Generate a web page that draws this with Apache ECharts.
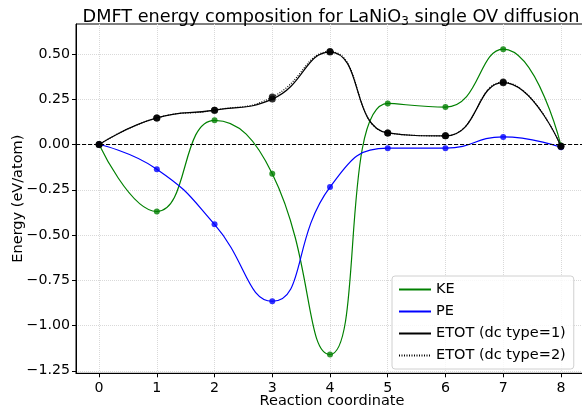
<!DOCTYPE html>
<html>
<head>
<meta charset="utf-8">
<script src="https://cdn.jsdelivr.net/npm/echarts@6/dist/echarts.min.js"></script>
<style>html,body{margin:0;padding:0;background:#fff}#c{width:582px;height:409px}</style>
</head>
<body>
<div id="c"></div>
<script>
const coords = [0, 1, 2, 3, 4, 5, 6, 7, 8];
const KE    = [0, -0.37, 0.134, -0.161, -1.16, 0.227, 0.207, 0.527, -0.005];
const PE    = [0, -0.136, -0.441, -0.866, -0.235, -0.02, -0.02, 0.042, -0.015];
const ETOT1 = [0, 0.147, 0.19, 0.251, 0.511, 0.064, 0.048, 0.342, -0.01];
const ETOT2 = [0, 0.147, 0.19, 0.262, 0.514, 0.064, 0.048, 0.345, -0.01];
const xTicks = [0, 1, 2, 3, 4, 5, 6, 7, 8];
const yTicks = [-1.25, -1.0, -0.75, -0.5, -0.25, 0, 0.25, 0.5];

const pairs = arr => coords.map((x, i) => [x, arr[i]]);
const font = 'DejaVu Sans';

function lineSeries(name, arr, color, type) {
  return {
    name: name, type: 'line', data: pairs(arr), smooth: 0.5,
    symbol: 'none', lineStyle: {color: color, width: 1.2, type: type || 'solid'},
    itemStyle: {color: color}, z: 2
  };
}
function dotSeries(arr, color, size) {
  return {
    type: 'scatter', data: pairs(arr), symbolSize: size,
    itemStyle: {color: color}, z: 3, silent: true
  };
}

const chart = echarts.init(document.getElementById('c'), null, {renderer: 'canvas'});
chart.setOption({
  animation: false,
  textStyle: {fontFamily: font},
  title: {
    text: 'DMFT energy composition for LaNiO{sub|3} single OV diffusion',
    left: 326, textAlign: 'center', top: 2,
    textStyle: {
      fontFamily: font, fontSize: 17.7, fontWeight: 'normal', color: '#000',
      rich: {sub: {fontFamily: font, fontSize: 12, verticalAlign: 'bottom', padding: [9, 0, 0, 0], color: '#000'}}
    }
  },
  grid: {left: 76, top: 24, width: 512, height: 349.3, show: true, borderColor: '#000', borderWidth: 1,
         outerBoundsMode: 'none', containLabel: false},
  xAxis: {
    type: 'value', min: -0.4, max: 8.469,
    name: 'Reaction coordinate', nameLocation: 'middle', nameGap: 20, nameMoveOverlap: false,
    nameTextStyle: {fontFamily: font, fontSize: 14.5, color: '#000'},
    axisLine: {show: true, onZero: false, lineStyle: {color: '#000', width: 1}},
    axisTick: {show: true, length: 4, customValues: xTicks, lineStyle: {color: '#000'}},
    axisLabel: {customValues: xTicks, fontFamily: font, fontSize: 14.2, color: '#000', margin: 8},
    splitLine: {show: true, lineStyle: {color: '#d9d9d9', type: 'dotted', width: 1}}
  },
  yAxis: {
    type: 'value', min: -1.264, max: 0.666,
    name: 'Energy (eV/atom)', nameLocation: 'middle', nameGap: 50, nameMoveOverlap: false,
    nameTextStyle: {fontFamily: font, fontSize: 14.5, color: '#000'},
    axisLine: {show: true, onZero: false, lineStyle: {color: '#000', width: 1}},
    axisTick: {show: true, length: 4, customValues: yTicks, lineStyle: {color: '#000'}},
    axisLabel: {
      customValues: yTicks, fontFamily: font, fontSize: 14.2, color: '#000', margin: 6,
      formatter: v => v.toFixed(2).replace('-', '\u2212')
    },
    splitLine: {show: true, lineStyle: {color: '#d9d9d9', type: 'dotted', width: 1}}
  },
  legend: {
    orient: 'vertical', left: 392, top: 276,
    itemWidth: 32, itemHeight: 14, itemGap: 7, padding: [6, 8, 6, 6],
    borderColor: '#d0d0d0', borderWidth: 1, borderRadius: 3, backgroundColor: 'rgba(255,255,255,0.8)',
    itemStyle: {opacity: 0},
    textStyle: {fontFamily: font, fontSize: 14.5, color: '#000'},
    data: ['KE', 'PE', 'ETOT (dc type=1)', 'ETOT (dc type=2)']
  },
  series: [
    Object.assign(lineSeries('KE', KE, '#008000'), {
      markLine: {
        silent: true, symbol: 'none', label: {show: false},
        lineStyle: {color: '#000', type: [4, 2], width: 1},
        data: [{yAxis: 0}]
      }
    }),
    lineSeries('PE', PE, '#0000ff'),
    lineSeries('ETOT (dc type=1)', ETOT1, '#000'),
    lineSeries('ETOT (dc type=2)', ETOT2, '#000', [1, 1.5]),
    dotSeries(KE, '#008000', 6),
    dotSeries(PE, '#0000ff', 6),
    dotSeries(ETOT1, '#000', 7),
    dotSeries(ETOT2, '#000', 7)
  ]
});
</script>
</body>
</html>
